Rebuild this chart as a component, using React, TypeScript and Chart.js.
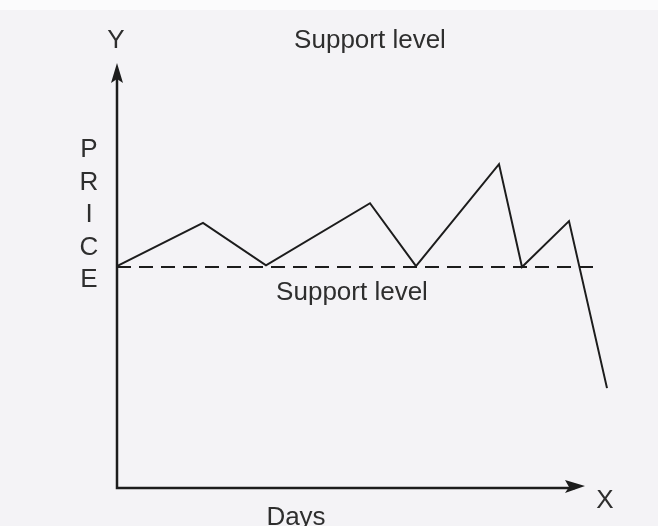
import React, { useEffect, useRef } from "react";
import { Chart, registerables } from "chart.js";

Chart.register(...registerables);

// Price path over days (in chart units)
const days = [0, 8.6, 14.9, 25.3, 29.9, 38.2, 40.5, 45.2, 49.0];
const prices = [52.2, 62.4, 52.4, 67.0, 52.2, 76.2, 52.0, 62.8, 23.5];
// Support level (dashed)
const supportDays = [0, 47.8];
const supportValues = [52, 52];
// Axis extents
const xAxisRange = [0, 46.8];
const yAxisRange = [0, 100];
// Texts
const priceLetters = ["P", "R", "I", "C", "E"];
const topLabel = "Support level";
const supportLabel = "Support level";
const xAxisLetter = "X";
const yAxisLetter = "Y";
const xTitle = "Days";

const FONT = '26px "Liberation Sans", Arial, sans-serif';
const INK = "#1c1c1c";
const TEXT = "#2e2e2e";

const overlay = {
  id: "overlay",
  beforeDraw(chart: any) {
    const { ctx, width, height } = chart;
    ctx.save();
    ctx.fillStyle = "#f4f3f6";
    ctx.fillRect(0, 0, width, height);
    ctx.fillStyle = "#fbfbfc";
    ctx.fillRect(0, 0, width, 10);
    ctx.restore();
  },
  afterDatasetsDraw(chart: any) {
    const { ctx } = chart;
    const xs = chart.scales.x;
    const ys = chart.scales.y;
    const x0 = xs.getPixelForValue(xAxisRange[0]);
    const x1 = xs.getPixelForValue(xAxisRange[1]);
    const y0 = ys.getPixelForValue(yAxisRange[0]);
    const y1 = ys.getPixelForValue(yAxisRange[1]);
    ctx.save();
    ctx.strokeStyle = INK;
    ctx.fillStyle = INK;
    ctx.lineWidth = 2.5;
    ctx.beginPath();
    ctx.moveTo(x0, y1 + 10);
    ctx.lineTo(x0, y0);
    ctx.lineTo(x1 - 10, y0);
    ctx.stroke();
    // Y arrow
    ctx.beginPath();
    ctx.moveTo(x0, y1);
    ctx.lineTo(x0 - 6, y1 + 20);
    ctx.lineTo(x0, y1 + 16);
    ctx.lineTo(x0 + 6, y1 + 20);
    ctx.closePath();
    ctx.fill();
    // X arrow
    ctx.beginPath();
    ctx.moveTo(x1, y0 - 2);
    ctx.lineTo(x1 - 20, y0 - 8);
    ctx.lineTo(x1 - 16, y0 - 1);
    ctx.lineTo(x1 - 20, y0 + 5);
    ctx.closePath();
    ctx.fill();

    // Texts
    ctx.fillStyle = TEXT;
    ctx.font = FONT;
    ctx.textAlign = "center";
    ctx.textBaseline = "alphabetic";
    ctx.fillText(yAxisLetter, x0 - 1, y1 - 15);
    ctx.fillText(topLabel, 370, y1 - 15);
    priceLetters.forEach((ch, i) => {
      ctx.fillText(ch, x0 - 28, 157 + i * 32.5);
    });
    const sy = ys.getPixelForValue(supportValues[0]);
    ctx.fillText(supportLabel, 352, sy + 33);
    ctx.fillText(xTitle, 296, y0 + 37);
    ctx.fillText(xAxisLetter, x1 + 20, y0 + 20);
    ctx.restore();
  },
};

export default function App() {
  const ref = useRef<HTMLCanvasElement | null>(null);
  useEffect(() => {
    if (!ref.current) return;
    const chart = new Chart(ref.current, {
      type: "line",
      data: {
        datasets: [
          {
            label: "Price",
            data: days.map((d, i) => ({ x: d, y: prices[i] })),
            borderColor: INK,
            borderWidth: 2,
            pointRadius: 0,
            tension: 0,
            fill: false,
            clip: false as any,
          },
          {
            label: "Support level",
            data: supportDays.map((d, i) => ({ x: d, y: supportValues[i] })),
            borderColor: INK,
            borderWidth: 2,
            borderDash: [14, 8],
            pointRadius: 0,
            tension: 0,
            fill: false,
          },
        ],
      },
      options: {
        animation: false,
        responsive: false,
        devicePixelRatio: 1,
        layout: { padding: { left: 117, right: 41, top: 63, bottom: 38 } },
        plugins: {
          legend: { display: false },
          tooltip: { enabled: false },
          title: { display: false },
        },
        scales: {
          x: { type: "linear", min: 0, max: 50, display: false },
          y: { type: "linear", min: 0, max: 100, display: false },
        },
        events: [],
      },
      plugins: [overlay],
    });
    return () => chart.destroy();
  }, []);
  return (
    <div style={{ position: "fixed", left: 0, top: 0, width: 658, height: 526 }}>
      <canvas ref={ref} width={658} height={526} />
    </div>
  );
}
